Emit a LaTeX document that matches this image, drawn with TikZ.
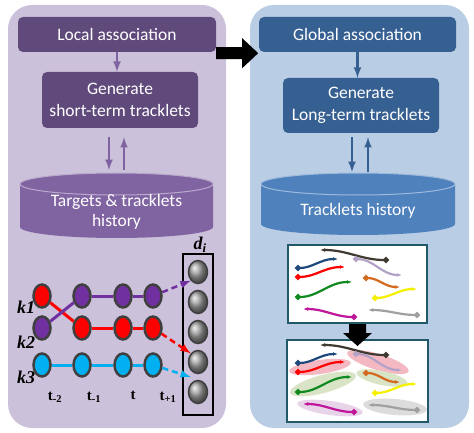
\documentclass[tikz,border=0pt]{standalone}
\usepackage{fontspec}
\setmainfont{Carlito}
\newfontfamily\tnrfont{Liberation Serif}
\usetikzlibrary{shapes.geometric,calc,positioning,arrows.meta}

\definecolor{lpanel}{HTML}{CCC1DA}
\definecolor{rpanel}{HTML}{B9CDE5}
\definecolor{localfill}{HTML}{604A7B}
\definecolor{globalfill}{HTML}{376092}
\definecolor{dbleft}{HTML}{8064A2}
\definecolor{dbright}{HTML}{4F81BD}
\definecolor{tred}{HTML}{FF0000}
\definecolor{tpurple}{HTML}{7030A0}
\definecolor{tcyan}{HTML}{00B0F0}
\definecolor{rim}{HTML}{3F3F3F}
\definecolor{viewrim}{HTML}{215968}
\definecolor{trkbrown}{HTML}{3F3A30}
\definecolor{trkblue}{HTML}{1F497D}
\definecolor{trkred}{HTML}{FF0000}
\definecolor{trklav}{HTML}{B3A2C7}
\definecolor{trkorange}{HTML}{D2691E}
\definecolor{trkgreen}{HTML}{108A20}
\definecolor{trkyellow}{HTML}{F5F000}
\definecolor{trkmag}{HTML}{C0189A}
\definecolor{trkgray}{HTML}{A0A0A0}
\definecolor{hlpink}{HTML}{F4B8C2}
\definecolor{hlgreen}{HTML}{D9E4C6}
\definecolor{hlmag}{HTML}{E8D4E8}
\definecolor{hlgray}{HTML}{DCDCDC}

\tikzset{
  panel/.style={rounded corners=24pt},
  stage/.style={rounded corners=5pt, text=white, align=center, inner sep=0pt,
    font=\fontsize{17.5}{22}\selectfont},
  dbtext/.style={text=white, align=center, font=\fontsize{17.5}{20}\selectfont},
  flow/.style={->, line width=2.5pt},
  obs/.style={ellipse, minimum width=17pt, minimum height=23pt, inner sep=0pt,
    draw=rim, line width=2.5pt},
  link/.style={line width=3pt},
  guess/.style={->, line width=2.5pt, dash pattern=on 6pt off 4pt},
  det/.style={ellipse, minimum width=19pt, minimum height=23pt, inner sep=0pt,
    draw=rim, line width=1.5pt, ball color=gray!75},
  klabel/.style={font=\tnrfont\bfseries\itshape\fontsize{18}{18}\selectfont},
  tlabel/.style={font=\tnrfont\bfseries\fontsize{15}{15}\selectfont},
  view/.style={draw=viewrim, line width=2pt, fill=white, inner sep=0pt},
  tracklet/.style={arrows={Circle[length=6pt]-Latex[length=5pt]}, line width=2.2pt},
}

\newcommand\tracklets{%
  \foreach \col/\o/\i/\p/\q in {
      trkbrown/180/0/{389,260}/{320,250},
      trkblue/0/180/{295,268}/{338,259},
      trkred/0/180/{295,277}/{345,267},
      trklav/0/180/{353,259}/{402,275},
      trkorange/0/180/{363,278}/{400,287},
      trkgreen/0/180/{295,297}/{352,282},
      trkyellow/0/180/{372,298}/{417,289},
      trkmag/180/0/{357,317}/{303,309},
      trkgray/180/0/{420,315}/{368,310}}
    {\draw[tracklet,\col] (\p) to[out=\o,in=\i] (\q);}%
}

\begin{document}
\begin{tikzpicture}[x=1pt,y=-1pt,>=latex]
\useasboundingbox (0,0) rectangle (474,433);
\fill[white] (0,0) rectangle (474,433);

% the two stages
\fill[lpanel,panel] (8,5) rectangle (226,428);
\fill[rpanel,panel] (250,5) rectangle (469,428);

\node[stage,fill=localfill,minimum width=198pt,minimum height=35pt] (local) at (117,34.5) {Local association};
\node[stage,fill=localfill,minimum width=156pt,minimum height=56pt] (short) at (120,100) {Generate\\short-term tracklets};
\node[stage,fill=globalfill,minimum width=197pt,minimum height=35pt] (global) at (357.5,34.5) {Global association};
\node[stage,fill=globalfill,minimum width=156pt,minimum height=55pt] (long) at (361,105.5) {Generate\\Long-term tracklets};

% block arrow between the stages
\fill[black] ([yshift=5pt]local.south east) -- ++(26,0) -- ++(0,-9) -- ++(16,15)
  -- ++(-16,15) -- ++(0,-9) -- ++(-26,0) -- cycle;

\draw[flow,dbleft] (local.south) -- (local.south |- short.north);
\draw[flow,globalfill] (global.south) -- (global.south |- long.north);

% history stores
\fill[dbleft] (20,184) -- (20,227) arc[start angle=180,end angle=360,x radius=96.5pt,y radius=11pt]
  -- (213,184) arc[start angle=0,end angle=180,x radius=96.5pt,y radius=11pt] -- cycle;
\draw[dbleft!55!white,line width=1pt] (116.5,184) ellipse (96.5pt and 11pt);
\node[dbtext] (hist) at (116.5,212) {Targets \& tracklets\\history};
\coordinate (histtop) at (116.5,173);

\fill[dbright] (261,184) -- (261,224) arc[start angle=180,end angle=360,x radius=97pt,y radius=11pt]
  -- (455,184) arc[start angle=0,end angle=180,x radius=97pt,y radius=11pt] -- cycle;
\draw[dbright!55!white,line width=1pt] (358,184) ellipse (97pt and 11pt);
\node[dbtext] (thist) at (358,211) {Tracklets history};
\coordinate (thisttop) at (358,173);

\draw[flow,dbleft] ([xshift=-11pt,yshift=-9pt]short.south) -- ([xshift=-7.5pt,yshift=3pt]histtop);
\draw[flow,dbleft] ([xshift=7.5pt,yshift=3pt]histtop) -- ([xshift=4pt,yshift=-9pt]short.south);
\draw[flow,globalfill] ([xshift=-9pt,yshift=-4pt]long.south) -- ([xshift=-6pt,yshift=1pt]thisttop);
\draw[flow,globalfill] ([xshift=10pt,yshift=1pt]thisttop) -- ([xshift=7pt,yshift=-4pt]long.south);

% observations over time
\foreach \r/\y/\ca/\cb in {1/296/tred/tpurple, 2/328/tpurple/tred, 3/365/tcyan/tcyan}{
  \node[obs,fill=\ca] (n\r1) at (42,\y) {};
  \foreach \x [count=\c from 2] in {82,123,153}
    \node[obs,fill=\cb] (n\r\c) at (\x,\y) {};
}
\draw[link,tred] (n11) -- (n22);
\draw[link,tpurple] (n21) -- (n12);
\draw[link,tpurple] (n12) -- (n13) -- (n14);
\draw[link,tred] (n22) -- (n23) -- (n24);
\draw[link,tcyan] (n31) -- (n32) -- (n33) -- (n34);

\node[klabel] (k1) at (26,307) {k1};
\node[klabel] (k2) at (26,342) {k2};
\node[klabel] (k3) at (26,377) {k3};
\node[tlabel] at (55,397) {t\textsubscript{-2}};
\node[tlabel] at (94,397) {t\textsubscript{-1}};
\node[tlabel] at (133,395) {t};
\node[tlabel] at (168,397) {t\textsubscript{+1}};

% detections
\node[draw=black,line width=1.5pt,minimum width=30pt,minimum height=161pt,inner sep=0pt] (dbox) at (198,334.5) {};
\foreach \i in {1,...,5}
  \node[det] (d\i) at (198,242+30*\i) {};
\node[klabel] (di) at (200,245) {d\textsubscript{i}};

\draw[guess,tpurple] (n14) -- (d1.south west);
\draw[guess,tred] (n24) -- (d4.north west);
\draw[guess,tcyan] (n34) -- ($(d4.south west)!.5!(d5.north west)$);

% tracklet views
\node[view,minimum width=139pt,minimum height=78pt] (view1) at (357.5,284) {};
\node[view,minimum width=141pt,minimum height=82pt] (view2) at (357.5,381) {};
\tracklets
\begin{scope}[shift={(0,95)}]
  \fill[hlpink,rotate around={8:(320,272)}] (320,272) ellipse (31pt and 7pt);
  \fill[hlpink,rotate around={-17:(378,267)}] (378,267) ellipse (32pt and 8pt);
  \fill[hlgreen,rotate around={15:(323,289)}] (323,289) ellipse (34pt and 9pt);
  \fill[hlgreen,rotate around={-12:(382,283)}] (382,283) ellipse (26pt and 7pt);
  \fill[hlmag,rotate around={-8:(330,313)}] (330,313) ellipse (33pt and 7pt);
  \fill[hlgray,rotate around={-5:(395,312)}] (395,312) ellipse (32pt and 8pt);
  \tracklets
\end{scope}
\fill[black] ([xshift=-8.5pt]view1.south) -- ++(17,0) -- ++(0,9) -- ++(6,0)
  -- ++(-14.5,13) -- ++(-14.5,-13) -- ++(6,0) -- cycle;
\end{tikzpicture}
\end{document}
